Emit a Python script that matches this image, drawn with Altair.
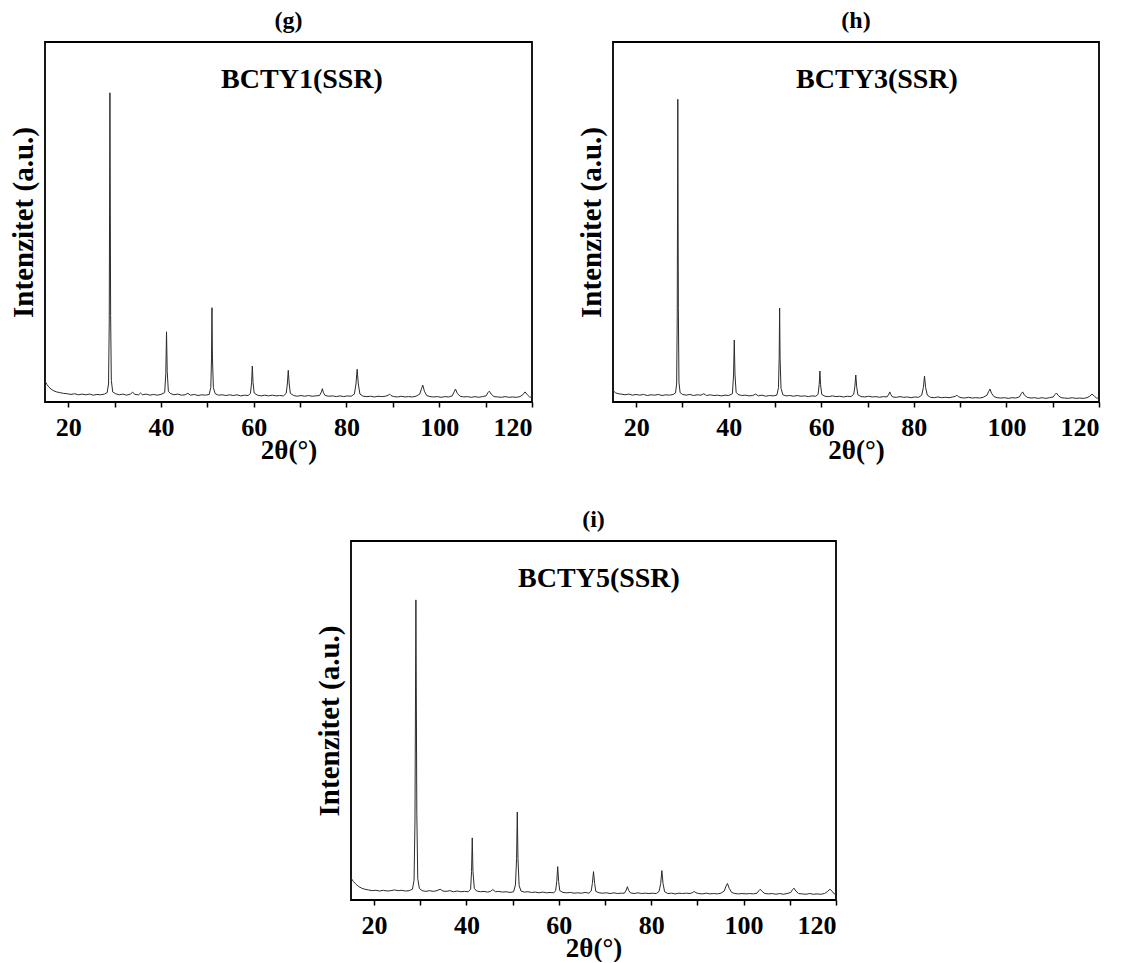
import altair as alt
import pandas as pd

# ---------------- data ----------------
# Panel (g) BCTY1(SSR)
g_x = [15.0, 15.4, 15.8, 16.3, 16.9, 17.5, 18.2, 19.0, 19.8, 20.6, 21.4, 22.2, 23.0, 23.8, 24.6, 25.4,
       26.2, 27.0, 27.8, 28.4, 28.7, 28.85, 29.0, 29.15, 29.3, 29.6, 30.2, 31.0, 31.8, 32.6, 33.4, 33.9,
       34.4, 35.2, 35.6, 36.0, 36.8, 37.6, 38.4, 39.2, 40.0, 40.8, 41.05, 41.2, 41.35, 41.6, 42.0, 42.8,
       43.6, 44.4, 45.2, 45.8, 46.4, 47.2, 48.0, 48.8, 49.6, 50.4, 50.75, 50.9, 51.0, 51.1, 51.3, 51.7,
       52.4, 53.2, 54.0, 54.8, 55.6, 56.4, 57.2, 58.0, 58.8, 59.3, 59.55, 59.7, 59.85, 60.1, 60.8, 61.6,
       62.4, 63.2, 64.0, 64.8, 65.6, 66.4, 67.0, 67.25, 67.45, 67.65, 67.9, 68.6, 69.4, 70.2, 71.0, 71.8,
       72.6, 73.4, 74.2, 74.6, 74.8, 75.0, 75.4, 76.2, 77.0, 77.8, 78.6, 79.4, 80.2, 81.0, 81.7, 82.05,
       82.3, 82.55, 82.9, 83.6, 84.4, 85.2, 86.0, 86.8, 87.6, 88.4, 89.0, 89.3, 89.6, 90.2, 91.0, 91.8,
       92.6, 93.4, 94.2, 95.0, 95.8, 96.2, 96.45, 96.8, 97.3, 98.0, 98.8, 99.6, 100.4, 101.2, 102.0, 102.8,
       103.2, 103.5, 103.9, 104.5, 105.3, 106.1, 106.9, 107.7, 108.5, 109.3, 110.1, 110.5, 110.8, 111.2, 111.8, 112.6,
       113.4, 114.2, 115.0, 115.8, 116.6, 117.4, 118.0, 118.5, 119.0, 119.5, 120.0]
g_y = [5.8, 4.9, 4.2, 3.6, 3.1, 2.8, 2.6, 2.4, 2.3, 2.1, 2.3, 2.0, 2.2, 2.0, 2.2, 1.9,
       2.1, 2.0, 2.2, 2.6, 5.0, 22.0, 85.9, 24.0, 6.0, 2.8, 2.3, 2.0, 2.2, 1.9, 2.2, 2.7,
       2.1, 2.0, 2.5, 2.0, 2.2, 1.9, 2.1, 1.9, 2.1, 2.6, 8.0, 19.5, 8.5, 3.0, 2.4, 2.0,
       2.2, 1.9, 2.0, 2.4, 1.9, 2.1, 1.8, 2.0, 1.9, 2.1, 4.0, 12.0, 26.2, 12.5, 4.0, 2.3,
       1.9, 2.0, 1.8, 2.0, 1.8, 2.0, 1.7, 1.9, 1.8, 2.4, 5.5, 10.0, 5.5, 2.5, 1.9, 1.7,
       1.9, 1.7, 1.9, 1.7, 1.8, 1.7, 2.4, 5.0, 8.8, 5.0, 2.4, 1.8, 1.6, 1.8, 1.6, 1.8,
       1.6, 1.7, 1.8, 2.8, 3.7, 2.7, 1.8, 1.6, 1.7, 1.5, 1.7, 1.5, 1.7, 1.6, 2.2, 5.0,
       9.1, 5.0, 2.2, 1.6, 1.5, 1.6, 1.4, 1.6, 1.5, 1.6, 1.9, 2.2, 1.8, 1.5, 1.4, 1.6,
       1.4, 1.5, 1.4, 1.6, 2.2, 3.8, 4.7, 3.0, 1.8, 1.5, 1.4, 1.5, 1.3, 1.5, 1.4, 1.7,
       2.8, 3.6, 2.4, 1.6, 1.4, 1.5, 1.3, 1.5, 1.3, 1.5, 1.7, 2.6, 3.0, 2.2, 1.5, 1.4,
       1.3, 1.5, 1.3, 1.4, 1.3, 1.5, 2.0, 2.8, 2.0, 1.4, 1.3]

# Panel (h) BCTY3(SSR)
h_x = [15.0, 15.5, 16.1, 16.8, 17.6, 18.4, 19.2, 20.0, 20.8, 21.6, 22.4, 23.2, 24.0, 24.8, 25.6, 26.4,
       27.2, 28.0, 28.5, 28.75, 28.88, 29.0, 29.12, 29.25, 29.5, 30.0, 30.8, 31.6, 32.4, 33.2, 34.0, 34.6,
       35.2, 36.0, 36.8, 37.6, 38.4, 39.2, 40.0, 40.8, 41.05, 41.2, 41.35, 41.6, 42.0, 42.8, 43.6, 44.4,
       45.2, 45.8, 46.4, 47.2, 48.0, 48.8, 49.6, 50.4, 50.75, 50.9, 51.0, 51.1, 51.3, 51.7, 52.4, 53.2,
       54.0, 54.8, 55.6, 56.4, 57.2, 58.0, 58.8, 59.3, 59.55, 59.7, 59.85, 60.1, 60.8, 61.6, 62.4, 63.2,
       64.0, 64.8, 65.6, 66.4, 67.0, 67.25, 67.45, 67.65, 67.9, 68.6, 69.4, 70.2, 71.0, 71.8, 72.6, 73.4,
       74.2, 74.6, 74.8, 75.0, 75.4, 76.2, 77.0, 77.8, 78.6, 79.4, 80.2, 81.0, 81.7, 82.05, 82.3, 82.55,
       82.9, 83.6, 84.4, 85.2, 86.0, 86.8, 87.6, 88.4, 89.0, 89.3, 89.6, 90.2, 91.0, 91.8, 92.6, 93.4,
       94.2, 95.0, 95.8, 96.2, 96.45, 96.8, 97.3, 98.0, 98.8, 99.6, 100.4, 101.2, 102.0, 102.8, 103.2, 103.5,
       103.9, 104.5, 105.3, 106.1, 106.9, 107.7, 108.5, 109.3, 110.1, 110.5, 110.8, 111.2, 111.8, 112.6, 113.4, 114.2,
       115.0, 115.8, 116.6, 117.4, 118.0, 118.5, 119.0, 119.5, 120.0]
h_y = [3.2, 2.6, 2.3, 2.2, 2.0, 2.2, 1.9, 2.1, 1.9, 2.1, 1.8, 2.0, 1.9, 2.1, 1.8, 2.0,
       1.9, 2.1, 2.5, 5.0, 24.0, 84.1, 26.0, 5.5, 2.6, 2.1, 1.9, 2.1, 1.8, 2.0, 1.9, 2.3,
       1.8, 2.0, 1.8, 1.9, 1.7, 1.9, 1.8, 2.3, 7.5, 17.2, 7.8, 2.7, 2.1, 1.8, 1.9, 1.7,
       1.8, 2.2, 1.7, 1.9, 1.6, 1.8, 1.7, 1.9, 4.0, 12.0, 26.1, 12.0, 3.8, 2.0, 1.7, 1.8,
       1.6, 1.8, 1.6, 1.7, 1.5, 1.7, 1.6, 2.1, 4.8, 8.6, 4.8, 2.1, 1.6, 1.5, 1.7, 1.5,
       1.6, 1.4, 1.6, 1.5, 2.1, 4.2, 7.5, 4.2, 2.0, 1.5, 1.4, 1.6, 1.4, 1.5, 1.3, 1.5,
       1.4, 2.2, 2.8, 2.1, 1.4, 1.3, 1.5, 1.3, 1.4, 1.2, 1.4, 1.3, 1.9, 4.0, 7.2, 4.0,
       1.9, 1.3, 1.2, 1.4, 1.2, 1.3, 1.2, 1.4, 1.6, 1.9, 1.5, 1.2, 1.1, 1.3, 1.1, 1.2,
       1.1, 1.3, 1.9, 3.0, 3.6, 2.4, 1.5, 1.2, 1.1, 1.2, 1.0, 1.2, 1.1, 1.4, 2.3, 2.8,
       1.9, 1.3, 1.1, 1.2, 1.0, 1.2, 1.0, 1.2, 1.4, 2.1, 2.5, 1.8, 1.2, 1.1, 1.0, 1.2,
       1.0, 1.1, 1.0, 1.2, 1.6, 2.2, 1.6, 1.1, 1.0]

# Panel (i) BCTY5(SSR)
i_x = [15.0, 15.5, 16.0, 16.6, 17.3, 18.0, 18.8, 19.6, 20.4, 21.2, 22.0, 22.8, 23.6, 24.4, 25.2, 26.0,
       26.8, 27.6, 28.3, 28.65, 28.85, 29.05, 29.25, 29.45, 29.8, 30.4, 31.2, 32.0, 32.8, 33.6, 34.3, 34.9,
       35.6, 36.4, 37.2, 38.0, 38.8, 39.6, 40.4, 40.9, 41.1, 41.25, 41.4, 41.7, 42.2, 43.0, 43.8, 44.6,
       45.2, 45.7, 46.3, 47.0, 47.8, 48.6, 49.4, 50.2, 50.6, 50.85, 51.0, 51.15, 51.4, 51.8, 52.5, 53.3,
       54.1, 54.9, 55.7, 56.5, 57.3, 58.1, 58.9, 59.3, 59.55, 59.75, 59.95, 60.2, 60.9, 61.7, 62.5, 63.3,
       64.1, 64.9, 65.7, 66.5, 67.0, 67.25, 67.5, 67.75, 68.0, 68.7, 69.5, 70.3, 71.1, 71.9, 72.7, 73.5,
       74.2, 74.6, 74.85, 75.1, 75.5, 76.3, 77.1, 77.9, 78.7, 79.5, 80.3, 81.1, 81.7, 82.05, 82.3, 82.55,
       82.9, 83.6, 84.4, 85.2, 86.0, 86.8, 87.6, 88.4, 89.0, 89.3, 89.7, 90.3, 91.1, 91.9, 92.7, 93.5,
       94.3, 95.1, 95.8, 96.2, 96.5, 96.9, 97.4, 98.1, 98.9, 99.7, 100.5, 101.3, 102.1, 102.9, 103.3, 103.6,
       104.0, 104.6, 105.4, 106.2, 107.0, 107.8, 108.6, 109.4, 110.2, 110.6, 110.9, 111.3, 111.9, 112.7, 113.5, 114.3,
       115.1, 115.9, 116.7, 117.5, 118.1, 118.7, 119.2, 119.6, 120.0]
i_y = [6.1, 5.2, 4.5, 3.8, 3.3, 3.0, 2.8, 2.6, 2.7, 2.5, 2.7, 2.5, 2.6, 2.8, 2.6, 2.7,
       2.5, 2.6, 3.0, 5.5, 22.0, 83.6, 24.0, 6.0, 3.2, 2.6, 2.4, 2.6, 2.4, 2.6, 3.0, 2.5,
       2.4, 2.6, 2.3, 2.5, 2.3, 2.4, 2.3, 3.0, 8.0, 17.3, 8.0, 3.2, 2.5, 2.3, 2.4, 2.2,
       2.4, 2.9, 2.3, 2.4, 2.2, 2.3, 2.1, 2.3, 4.2, 11.5, 24.5, 11.5, 4.0, 2.5, 2.2, 2.3,
       2.1, 2.2, 2.0, 2.2, 2.0, 2.1, 2.0, 2.6, 5.2, 9.3, 5.2, 2.6, 2.1, 2.0, 2.1, 1.9,
       2.0, 1.9, 2.1, 1.9, 2.5, 4.6, 7.9, 4.6, 2.4, 2.0, 1.9, 2.0, 1.8, 2.0, 1.8, 1.9,
       1.9, 2.8, 3.7, 2.7, 2.0, 1.8, 2.0, 1.8, 1.9, 1.8, 1.9, 1.8, 2.4, 4.6, 8.2, 4.6,
       2.3, 1.8, 1.9, 1.7, 1.9, 1.8, 1.9, 1.8, 2.1, 2.4, 2.0, 1.8, 1.7, 1.9, 1.7, 1.8,
       1.7, 1.9, 2.5, 3.9, 4.6, 3.2, 2.1, 1.8, 1.7, 1.8, 1.7, 1.8, 1.7, 1.9, 2.6, 3.0,
       2.4, 1.8, 1.7, 1.8, 1.6, 1.8, 1.6, 1.8, 2.1, 2.9, 3.3, 2.5, 1.8, 1.7, 1.6, 1.8,
       1.6, 1.7, 1.6, 1.8, 2.3, 3.0, 2.4, 1.7, 1.6]

panel_titles = ["(g)", "(h)", "(i)"]
sample_labels = ["BCTY1(SSR)", "BCTY3(SSR)", "BCTY5(SSR)"]
x_ticks = [20, 30, 40, 50, 60, 70, 80, 90, 100, 110, 120]
x_title = "2θ(°)"
y_title = "Intenzitet (a.u.)"

FONT = "Liberation Serif"


def panel(xs, ys, title, label, w, h, lab_x, lab_y):
    df = pd.DataFrame({"x": xs, "y": ys})
    line = alt.Chart(df).mark_line(color="#2b2b2b", strokeWidth=1, clip=True).encode(
        x=alt.X("x:Q",
                scale=alt.Scale(domain=[15, 120], nice=False, zero=False),
                axis=alt.Axis(values=x_ticks, labelExpr="datum.value % 20 == 0 ? datum.label : ''",
                              title=x_title, grid=False, domain=False, tickColor="black",
                              tickSize=5, tickWidth=1.5, labelPadding=7,
                              labelFont=FONT, labelFontSize=26, labelFontWeight="bold",
                              labelColor="black", titleFont=FONT, titleFontSize=27,
                              titleFontWeight="bold", titleColor="black", titlePadding=-3)),
        y=alt.Y("y:Q",
                scale=alt.Scale(domain=[0, 100], nice=False),
                axis=alt.Axis(labels=False, ticks=False, domain=False, grid=False,
                              title=y_title, titleFont=FONT, titleFontSize=29,
                              titleFontWeight="bold", titleColor="black", titlePadding=7)),
    )
    lab = alt.Chart(pd.DataFrame({"t": [label]})).mark_text(
        font=FONT, fontSize=28, fontWeight="bold", color="black"
    ).encode(x=alt.value(lab_x), y=alt.value(lab_y), text="t:N")
    return alt.layer(line, lab).properties(
        width=w, height=h,
        title=alt.TitleParams(title, frame="group", font=FONT, fontSize=24,
                              fontWeight="bold", color="black", offset=9),
    )


g = panel(g_x, g_y, panel_titles[0], sample_labels[0], 487, 360, 257, 38)
hh = panel(h_x, h_y, panel_titles[1], sample_labels[1], 486, 360, 264, 38)
ii = panel(i_x, i_y, panel_titles[2], sample_labels[2], 485, 359, 248, 38)

spacer = alt.Chart(pd.DataFrame({"v": [0]})).mark_point(opacity=0).encode(
    x=alt.X("v:Q", axis=None), y=alt.Y("v:Q", axis=None)
).properties(width=268, height=10, view=alt.ViewBackground(stroke="transparent"))

top = alt.hconcat(g, hh, spacing=42)
bottom = alt.hconcat(spacer, ii, spacing=0)

chart = alt.vconcat(top, bottom, spacing=43).properties(
    background="white",
    padding={"left": 0, "top": 0, "right": 5, "bottom": 0},
).configure_view(stroke="black", strokeWidth=1.8)

chart.save("out.html", embed_options={"renderer": "svg", "actions": False})
